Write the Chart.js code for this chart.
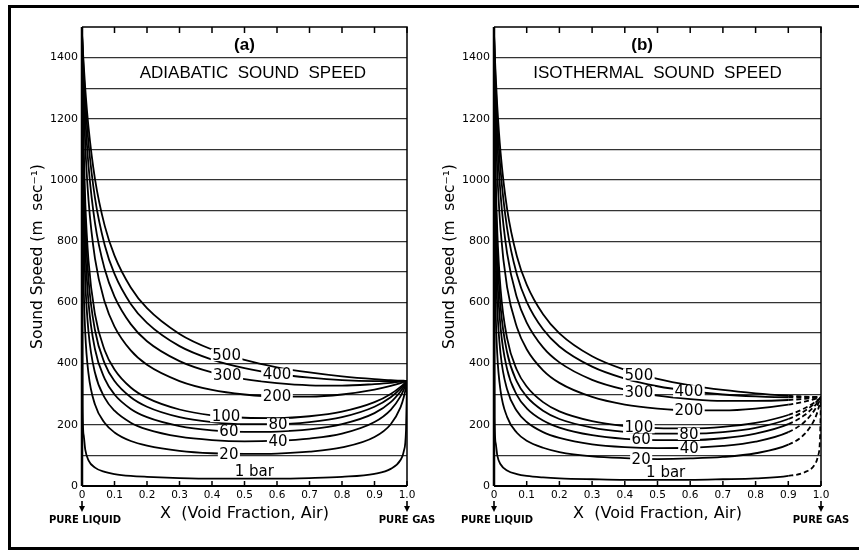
<!DOCTYPE html>
<html>
<head>
<meta charset="utf-8">
<script src="https://cdn.jsdelivr.net/npm/chart.js@4.4.1/dist/chart.umd.min.js"></script>
<style>
  html, body { margin: 0; padding: 0; background: #fff; }
  body { width: 859px; height: 550px; position: relative; overflow: hidden; }
  #frame { position: absolute; left: 8px; top: 5px; width: 880px; height: 539px; border: 3px solid #000; border-right: none; }
  canvas { position: absolute; top: 0; }
  #chartA { left: 0; }
  #chartB { left: 412px; }
</style>
</head>
<body>
<div id="frame"></div>
<canvas id="chartA" width="450" height="550"></canvas>
<canvas id="chartB" width="440" height="550"></canvas>
<script>
// void fraction X (shared by every curve)
const voidFraction = [0, 0.002, 0.005, 0.01, 0.02, 0.04, 0.07, 0.1, 0.15, 0.2, 0.3, 0.4, 0.5, 0.6, 0.7, 0.8, 0.9, 0.95, 0.98, 0.99, 0.997, 1.0];

const pressureLabels = ['1 bar', '20', '40', '60', '80', '100', '200', '300', '400', '500'];

// (a) adiabatic sound speed, m/s
const adi1   = [1480, 261, 167, 119, 84, 60, 46, 39, 33, 30, 26, 24, 24, 24, 26, 30, 40, 56, 85, 113, 183, 343];
const adi20  = [1480, 925, 670, 501, 367, 266, 206, 175, 147, 132, 115, 107, 105, 106, 112, 126, 160, 202, 257, 290, 324, 343];
const adi40  = [1480, 1110, 864, 672, 504, 370, 288, 246, 207, 185, 161, 150, 146, 148, 155, 171, 209, 249, 293, 315, 334, 343];
const adi60  = [1480, 1202, 978, 784, 600, 447, 350, 299, 252, 225, 196, 182, 177, 178, 185, 202, 238, 274, 309, 324, 337, 343];
const adi80  = [1480, 1257, 1056, 866, 675, 509, 400, 343, 290, 259, 225, 209, 202, 202, 209, 225, 259, 290, 318, 330, 339, 343];
const adi100 = [1480, 1294, 1113, 930, 737, 561, 443, 381, 322, 288, 250, 231, 223, 222, 228, 243, 274, 301, 324, 333, 340, 343];
const adi200 = [1480, 1378, 1259, 1116, 935, 743, 601, 521, 443, 396, 343, 314, 299, 292, 292, 299, 315, 327, 336, 340, 342, 343];
const adi300 = [1480, 1411, 1323, 1208, 1047, 859, 708, 619, 529, 473, 408, 371, 349, 336, 329, 328, 333, 337, 341, 342, 343, 343];
const adi400 = [1480, 1427, 1358, 1263, 1121, 941, 787, 693, 595, 533, 457, 413, 385, 366, 354, 346, 343, 343, 343, 343, 343, 343];
const adi500 = [1480, 1438, 1381, 1299, 1173, 1003, 850, 753, 649, 581, 497, 446, 412, 388, 371, 358, 349, 346, 344, 344, 343, 343];

// (b) isothermal sound speed, m/s
const iso1   = [1480, 221, 141, 100, 71, 51, 39, 33, 28, 25, 22, 20, 20, 20, 22, 25, 33, 45, 69, 95, 155, 290];
const iso20  = [1480, 830, 583, 430, 312, 226, 174, 148, 125, 111, 97, 91, 88, 90, 95, 107, 135, 170, 217, 245, 274, 290];
const iso40  = [1480, 1024, 768, 585, 433, 316, 245, 209, 176, 157, 136, 127, 124, 125, 131, 145, 176, 210, 248, 266, 282, 290];
const iso60  = [1480, 1127, 883, 690, 519, 382, 297, 254, 214, 191, 166, 154, 150, 150, 156, 171, 202, 232, 261, 274, 285, 290];
const iso80  = [1480, 1192, 965, 770, 588, 437, 341, 292, 246, 219, 191, 177, 171, 171, 176, 190, 219, 245, 269, 279, 286, 290];
const iso100 = [1480, 1236, 1026, 834, 645, 483, 379, 325, 274, 244, 212, 196, 189, 188, 193, 206, 232, 254, 273, 281, 287, 290];
const iso200 = [1480, 1342, 1194, 1029, 838, 650, 519, 447, 378, 337, 291, 266, 253, 247, 247, 253, 266, 276, 284, 287, 289, 290];
const iso300 = [1480, 1385, 1271, 1132, 954, 761, 616, 534, 453, 404, 347, 315, 295, 284, 278, 278, 281, 285, 288, 289, 290, 290];
const iso400 = [1480, 1407, 1316, 1197, 1033, 843, 691, 602, 512, 456, 390, 351, 326, 310, 299, 293, 290, 290, 290, 290, 290, 290];
const iso500 = [1480, 1421, 1345, 1241, 1091, 906, 751, 658, 561, 499, 424, 380, 350, 329, 314, 303, 295, 292, 291, 291, 290, 290];

// isothermal curves turn dashed beyond these X values
const isoDashFrom = [0.82, 0.88, 0.89, 0.9, 0.9, 0.9, 0.9, 0.9, 0.9, 0.9];

// axis ticks
const xTicks = [0, 0.1, 0.2, 0.3, 0.4, 0.5, 0.6, 0.7, 0.8, 0.9, 1.0];
const xTickLabels = ['0', '0.1', '0.2', '0.3', '0.4', '0.5', '0.6', '0.7', '0.8', '0.9', '1.0'];
const speedGrid = [0, 100, 200, 300, 400, 500, 600, 700, 800, 900, 1000, 1100, 1200, 1300, 1400, 1500];
const speedLabels = [0, 200, 400, 600, 800, 1000, 1200, 1400];

// curve labels: text, X, speed
const labelsA = [['500', 0.445, 428], ['400', 0.60, 365], ['300', 0.447, 361], ['200', 0.60, 293],
  ['100', 0.443, 228], ['80', 0.603, 202], ['60', 0.452, 180], ['40', 0.603, 147], ['20', 0.452, 105], ['1 bar', 0.53, 50]];
const labelsB = [['500', 0.443, 364], ['400', 0.596, 310], ['300', 0.443, 306], ['200', 0.596, 247],
  ['100', 0.443, 192], ['80', 0.596, 170], ['60', 0.45, 152], ['40', 0.597, 124], ['20', 0.45, 89], ['1 bar', 0.525, 46]];

const FONT = '"Liberation Sans", Arial, sans-serif';
const WIDE = '"DejaVu Sans", Verdana, sans-serif';

function makeDatasets(series, dashFrom) {
  return series.map((vals, i) => ({
    label: pressureLabels[i],
    data: vals.map((v, k) => ({ x: voidFraction[k], y: v })),
    borderColor: '#000',
    borderWidth: 1.8,
    pointRadius: 0,
    fill: false,
    cubicInterpolationMode: 'monotone',
    segment: dashFrom ? { borderDash: c => (c.p0.parsed.x >= dashFrom[i] ? [5, 3] : undefined) } : {}
  }));
}

// plot frame plus inward tick marks on top and bottom
const framePlugin = {
  id: 'frame',
  afterDatasetsDraw(chart) {
    const { ctx, chartArea: a, scales: { x } } = chart;
    ctx.save();
    ctx.strokeStyle = '#000';
    ctx.lineWidth = 1.5;
    ctx.beginPath();
    ctx.moveTo(a.left, a.top); ctx.lineTo(a.right, a.top); ctx.lineTo(a.right, a.bottom);
    ctx.stroke();
    ctx.lineWidth = 2;
    ctx.beginPath();
    ctx.moveTo(a.left, a.bottom); ctx.lineTo(a.right, a.bottom);
    ctx.stroke();
    ctx.lineWidth = 2.5;
    ctx.beginPath();
    ctx.moveTo(a.left, a.top); ctx.lineTo(a.left, a.bottom);
    ctx.stroke();
    ctx.lineWidth = 1.5;
    ctx.beginPath();
    xTicks.forEach(v => {
      const px = x.getPixelForValue(v);
      ctx.moveTo(px, a.top); ctx.lineTo(px, a.top + 6);
      ctx.moveTo(px, a.bottom); ctx.lineTo(px, a.bottom - 5);
    });
    ctx.stroke();
    ctx.restore();
  }
};

// pressure labels sitting on the curves, plus panel titles and end notes
const textPlugin = {
  id: 'panelText',
  afterDraw(chart, args, opts) {
    const { ctx, chartArea: a, scales: { x, y } } = chart;
    ctx.save();
    ctx.fillStyle = '#000';
    ctx.textAlign = 'center';
    ctx.textBaseline = 'middle';

    ctx.font = '15px ' + WIDE;
    opts.labels.forEach(([t, vx, vy]) => {
      const px = x.getPixelForValue(vx), py = y.getPixelForValue(vy);
      const w = ctx.measureText(t).width + 3;
      ctx.fillStyle = '#fff';
      ctx.fillRect(px - w / 2, py - 6, w, 12);
      ctx.fillStyle = '#000';
      ctx.fillText(t, px, py + 1);
    });

    ctx.font = 'bold 17px ' + FONT;
    ctx.fillText(opts.tag[0], x.getPixelForValue(opts.tag[1]), y.getPixelForValue(1440));
    ctx.font = '17px ' + FONT;
    ctx.fillText(opts.title[0], x.getPixelForValue(opts.title[1]), y.getPixelForValue(1350));

    // arrows under X = 0 and X = 1
    [0, 1].forEach(v => {
      const px = x.getPixelForValue(v);
      ctx.lineWidth = 1.6;
      ctx.beginPath();
      ctx.moveTo(px, a.bottom + 15); ctx.lineTo(px, a.bottom + 21);
      ctx.stroke();
      ctx.beginPath();
      ctx.moveTo(px - 3, a.bottom + 20); ctx.lineTo(px + 3, a.bottom + 20); ctx.lineTo(px, a.bottom + 26);
      ctx.closePath();
      ctx.fill();
    });
    ctx.font = 'bold 10px ' + WIDE;
    ctx.fillText('PURE LIQUID', x.getPixelForValue(0) + 3, a.bottom + 34);
    ctx.fillText('PURE GAS', x.getPixelForValue(1), a.bottom + 34);
    ctx.restore();
  }
};

function makeChart(id, datasets, rightPad, labels, tag, title) {
  return new Chart(document.getElementById(id), {
    type: 'line',
    data: { datasets },
    plugins: [framePlugin, textPlugin],
    options: {
      responsive: false,
      animation: false,
      layout: { padding: { left: 0, top: 27, right: rightPad, bottom: 0 } },
      plugins: {
        legend: { display: false },
        tooltip: { enabled: false },
        panelText: { labels, tag, title }
      },
      scales: {
        x: {
          type: 'linear', min: 0, max: 1,
          afterFit: s => { s.height = 64; },
          afterBuildTicks: s => { s.ticks = xTicks.map(v => ({ value: v })); },
          grid: { display: false, drawTicks: false },
          border: { display: false },
          ticks: {
            padding: 3, color: '#000', autoSkip: false, maxRotation: 0,
            font: { family: WIDE, size: 10.5 },
            callback: (v, i) => xTickLabels[i]
          },
          title: {
            display: true, text: 'X  (Void Fraction, Air)', color: '#000',
            font: { family: WIDE, size: 16 }, padding: { top: 0, bottom: 27 }
          }
        },
        y: {
          type: 'linear', min: 0, max: 1500,
          afterFit: s => { s.width = 82; },
          afterBuildTicks: s => { s.ticks = speedGrid.map(v => ({ value: v })); },
          grid: {
            drawTicks: false, lineWidth: 1.3,
            color: c => (c.tick.value === 0 || c.tick.value === 1500 ? 'rgba(0,0,0,0)' : '#333')
          },
          border: { display: false },
          ticks: {
            padding: 4, color: '#000', autoSkip: false,
            font: { family: WIDE, size: 11 },
            callback: v => (speedLabels.includes(v) ? String(v) : '')
          },
          title: {
            display: true, text: 'Sound Speed (m  sec\u207B\u00B9)', color: '#000',
            font: { family: WIDE, size: 15.5 }, padding: { top: 29, bottom: 0 }
          }
        }
      }
    }
  });
}

makeChart('chartA',
  makeDatasets([adi1, adi20, adi40, adi60, adi80, adi100, adi200, adi300, adi400, adi500], null),
  43, labelsA, ['(a)', 0.5], ['ADIABATIC  SOUND  SPEED', 0.526]);

makeChart('chartB',
  makeDatasets([iso1, iso20, iso40, iso60, iso80, iso100, iso200, iso300, iso400, iso500], isoDashFrom),
  31, labelsB, ['(b)', 0.453], ['ISOTHERMAL  SOUND  SPEED', 0.5]);
</script>
</body>
</html>
